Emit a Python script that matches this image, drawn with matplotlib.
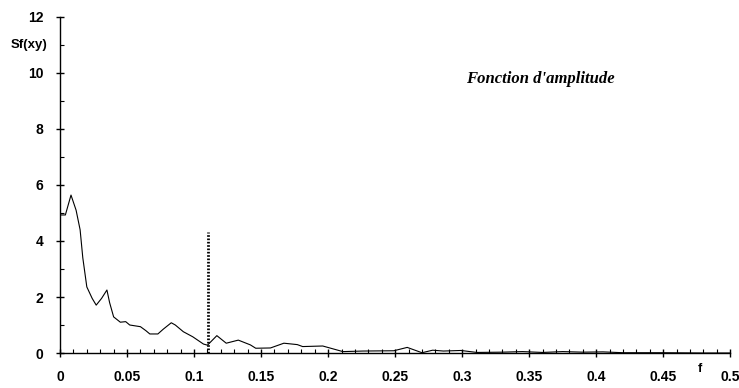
import matplotlib
matplotlib.use("Agg")
import matplotlib.pyplot as plt
from matplotlib.ticker import MultipleLocator

# values
freq = [0.0, 0.004, 0.0082, 0.012, 0.015, 0.017, 0.020, 0.024, 0.027, 0.031,
        0.035, 0.037, 0.040, 0.045, 0.049, 0.052, 0.060, 0.064, 0.067, 0.073,
        0.077, 0.083, 0.086, 0.092, 0.099, 0.107, 0.110, 0.117, 0.124, 0.133,
        0.142, 0.146, 0.157, 0.167, 0.177, 0.181, 0.196, 0.211, 0.226, 0.249,
        0.259, 0.270, 0.278, 0.286, 0.299, 0.311, 0.330, 0.345, 0.360, 0.375,
        0.390, 0.405, 0.420, 0.450, 0.480, 0.500]
ampl = [4.93, 4.93, 5.64, 5.10, 4.40, 3.40, 2.36, 1.95, 1.71, 1.95,
        2.25, 1.80, 1.29, 1.10, 1.12, 1.00, 0.94, 0.80, 0.68, 0.68,
        0.85, 1.08, 1.00, 0.76, 0.58, 0.32, 0.28, 0.62, 0.35, 0.46,
        0.29, 0.17, 0.18, 0.35, 0.30, 0.23, 0.25, 0.05, 0.07, 0.08,
        0.20, 0.01, 0.10, 0.07, 0.09, 0.02, 0.03, 0.05, 0.02, 0.05,
        0.03, 0.04, 0.01, 0.01, 0.0, 0.0]
cut_f = 0.1104
cut_h = 4.32

fig = plt.figure(figsize=(7.39, 3.88), dpi=100)
ax = fig.add_axes([0.0812, 0.0902, 0.907, 0.866])

ax.plot(freq, ampl, color='black', lw=0.8)
ax.plot([cut_f, cut_f], [0, cut_h], color='black', lw=2.0, ls=(0, (0.6, 0.6)))

ax.set_xlim(0, 0.5)
ax.set_ylim(0, 12)
ax.xaxis.set_minor_locator(MultipleLocator(0.01))
ax.yaxis.set_minor_locator(MultipleLocator(1))
ax.set_xticks([0, 0.05, 0.1, 0.15, 0.2, 0.25, 0.3, 0.35, 0.4, 0.45, 0.5])
ax.set_xticklabels(['0', '0.05', '0.1', '0.15', '0.2', '0.25', '0.3', '0.35', '0.4', '0.45', '0.5'])
ax.set_yticks([0, 2, 4, 6, 8, 10, 12])
ax.set_yticklabels(['0', '2', '4', '6', '8', '10', '12'])

for s in ['top', 'right']:
    ax.spines[s].set_visible(False)
ax.spines['left'].set_linewidth(1.0)
ax.spines['bottom'].set_linewidth(1.0)

ax.tick_params(axis='both', which='major', direction='inout', length=6, width=1,
               labelsize=10)
ax.tick_params(axis='x', which='major', pad=9)
ax.tick_params(axis='y', which='major', pad=9)
ax.tick_params(axis='both', which='minor', direction='in', length=3, width=0.8)
for lab in ax.get_xticklabels() + ax.get_yticklabels():
    lab.set_fontweight('bold')
    lab.set_family('Liberation Sans')

ax.text(-0.0097, 11, 'Sf(xy)', ha='right', va='center', fontsize=9.5,
        fontweight='bold', family='Liberation Sans', clip_on=False)
ax.text(0.477, -0.35, 'f', ha='center', va='top', fontsize=9,
        fontweight='bold', family='Liberation Sans', clip_on=False)
ax.text(0.358, 9.8, "Fonction d'amplitude", ha='center', va='center', fontsize=12,
        fontweight='bold', style='italic', family='Liberation Serif')

fig.savefig('out.png', dpi=100)
